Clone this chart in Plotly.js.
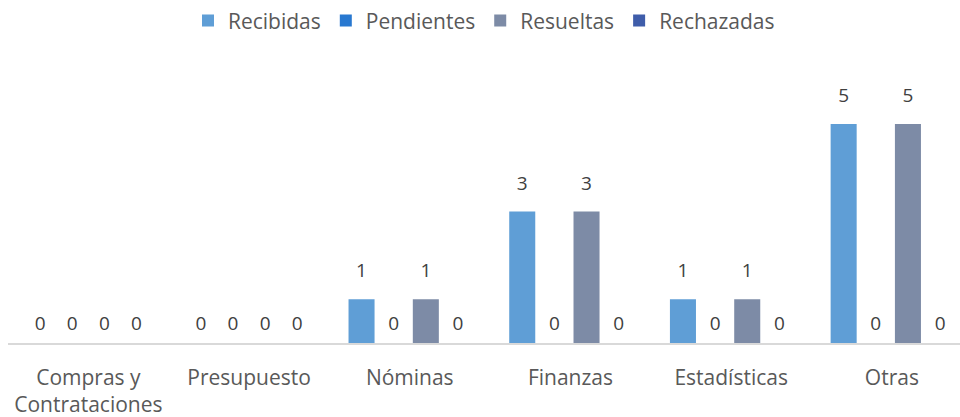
<!DOCTYPE html>
<html>
<head>
<meta charset="utf-8">
<script src="https://cdn.plot.ly/plotly-3.0.1.min.js"></script>
<style>html,body{margin:0;padding:0;background:#fff;}#chart{width:960px;height:417px;}</style>
</head>
<body>
<div id="chart"></div>
<script>
const categories = ["Compras y<br>Contrataciones", "Presupuesto", "Nóminas", "Finanzas", "Estadísticas", "Otras"];
const seriesNames = ["Recibidas", "Pendientes", "Resueltas", "Rechazadas"];
const recibidas  = [0, 0, 1, 3, 1, 5];
const pendientes = [0, 0, 0, 0, 0, 0];
const resueltas  = [0, 0, 1, 3, 1, 5];
const rechazadas = [0, 0, 0, 0, 0, 0];
const colors = ["#5F9ED6", "#2878D0", "#7D8BA6", "#3F5DAA"];

const values = [recibidas, pendientes, resueltas, rechazadas];
const font = "Open Sans, Noto Sans, sans-serif";
const bars = values.map((v, i) => ({
  type: "bar",
  name: seriesNames[i],
  x: categories,
  y: v,
  offsetgroup: "g" + i,
  marker: {color: colors[i]},
  hoverinfo: "skip"
}));
const labels = values.map((v, i) => ({
  type: "scatter",
  mode: "text+markers",
  showlegend: false,
  x: categories,
  y: v,
  offsetgroup: "g" + i,
  marker: {size: v.map(val => val === 0 ? 12 : 26), opacity: 0},
  text: v.map(String),
  textposition: "top center",
  cliponaxis: false,
  textfont: {family: font, size: 19, color: "#404040"},
  hoverinfo: "skip"
}));

const layout = {
  width: 960, height: 417,
  margin: {l: 8, r: 0, t: 70, b: 74},
  paper_bgcolor: "#fff", plot_bgcolor: "#fff",
  barmode: "group",
  bargap: 0.2,
  bargroupgap: 0.19,
  scattermode: "group",
  scattergap: 0.2,
  showlegend: true,
  legend: {orientation: "h", x: 0.5, xanchor: "center", y: 1.18, yanchor: "middle",
           font: {family: font, size: 21, color: "#595959"}, itemwidth: 30, traceorder: "normal"},
  xaxis: {type: "category", range: [-0.5, 5.424], showline: true, linecolor: "#D9D9D9", linewidth: 1.5,
          ticks: "", showgrid: false, zeroline: false, ticklabelstandoff: 15,
          tickfont: {family: font, size: 21, color: "#595959"}},
  yaxis: {range: [0, 6.23], showgrid: false, zeroline: false, showticklabels: false, showline: false},
  font: {family: font}
};
Plotly.newPlot("chart", bars.concat(labels), layout, {displayModeBar: false, staticPlot: true});
</script>
</body>
</html>
